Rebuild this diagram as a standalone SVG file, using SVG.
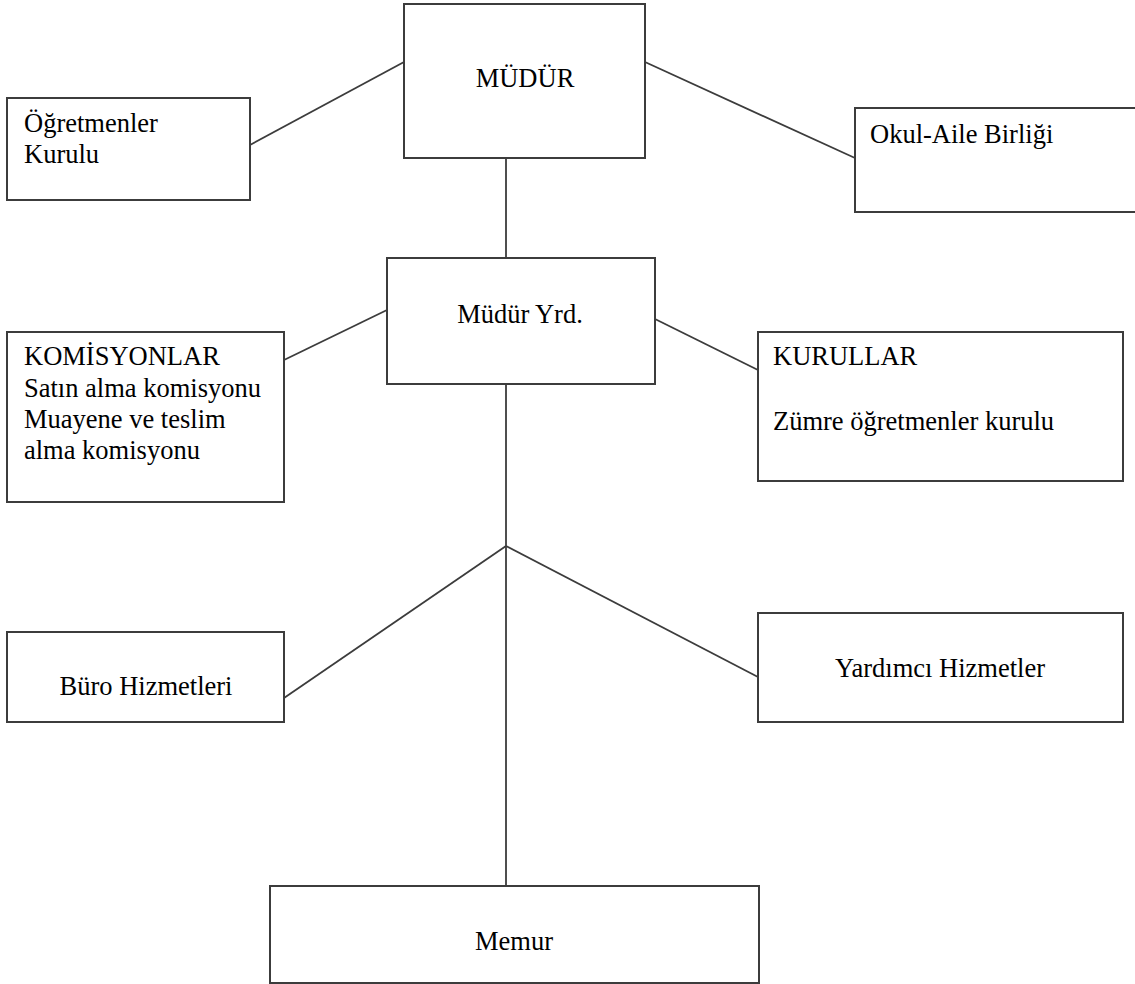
<svg xmlns="http://www.w3.org/2000/svg" width="1135" height="984" viewBox="0 0 1135 984">
  <style>
    .box { fill: #ffffff; stroke: #3c3c3c; stroke-width: 2; }
    .con { stroke: #3c3c3c; stroke-width: 1.8; fill: none; }
    .t { font-family: "Liberation Serif", "Times New Roman", serif; font-size: 26.5px; fill: #000000; }
    .c { text-anchor: middle; }
  </style>
  <rect x="0" y="0" width="1135" height="984" fill="#ffffff"/>
  <g id="connectors">
    <line class="con" x1="250" y1="145" x2="404" y2="62"/>
    <line class="con" x1="645" y1="62" x2="855" y2="158"/>
    <line class="con" x1="506" y1="158" x2="506" y2="258"/>
    <line class="con" x1="284" y1="360" x2="387" y2="310"/>
    <line class="con" x1="655" y1="319" x2="758" y2="370"/>
    <line class="con" x1="506" y1="384" x2="506" y2="886"/>
    <line class="con" x1="506" y1="546" x2="284" y2="698"/>
    <line class="con" x1="506" y1="546" x2="758" y2="677"/>
  </g>
  <g id="mudur">
    <rect class="box" x="404" y="4" width="241" height="154"/>
    <text class="t c" x="525" y="87">MÜDÜR</text>
  </g>
  <g id="ogretmenler-kurulu">
    <rect class="box" x="7" y="98" width="243" height="102"/>
    <text class="t" x="24" y="132">Öğretmenler</text>
    <text class="t" x="24" y="163">Kurulu</text>
  </g>
  <g id="okul-aile-birligi">
    <rect class="box" x="855" y="108" width="300" height="104"/>
    <text class="t" x="870" y="143">Okul-Aile Birliği</text>
  </g>
  <g id="mudur-yrd">
    <rect class="box" x="387" y="258" width="268" height="126"/>
    <text class="t c" x="520" y="323">Müdür Yrd.</text>
  </g>
  <g id="komisyonlar">
    <rect class="box" x="7" y="332" width="277" height="170"/>
    <text class="t" x="24" y="365">KOMİSYONLAR</text>
    <text class="t" x="24" y="397">Satın alma komisyonu</text>
    <text class="t" x="24" y="428">Muayene ve teslim</text>
    <text class="t" x="24" y="459">alma komisyonu</text>
  </g>
  <g id="kurullar">
    <rect class="box" x="758" y="332" width="365" height="149"/>
    <text class="t" x="773" y="365">KURULLAR</text>
    <text class="t" x="773" y="430">Zümre öğretmenler kurulu</text>
  </g>
  <g id="buro-hizmetleri">
    <rect class="box" x="7" y="632" width="277" height="90"/>
    <text class="t c" x="146" y="695">Büro Hizmetleri</text>
  </g>
  <g id="yardimci-hizmetler">
    <rect class="box" x="758" y="613" width="365" height="109"/>
    <text class="t c" x="940" y="677">Yardımcı Hizmetler</text>
  </g>
  <g id="memur">
    <rect class="box" x="270" y="886" width="489" height="97"/>
    <text class="t c" x="514" y="950">Memur</text>
  </g>
</svg>
